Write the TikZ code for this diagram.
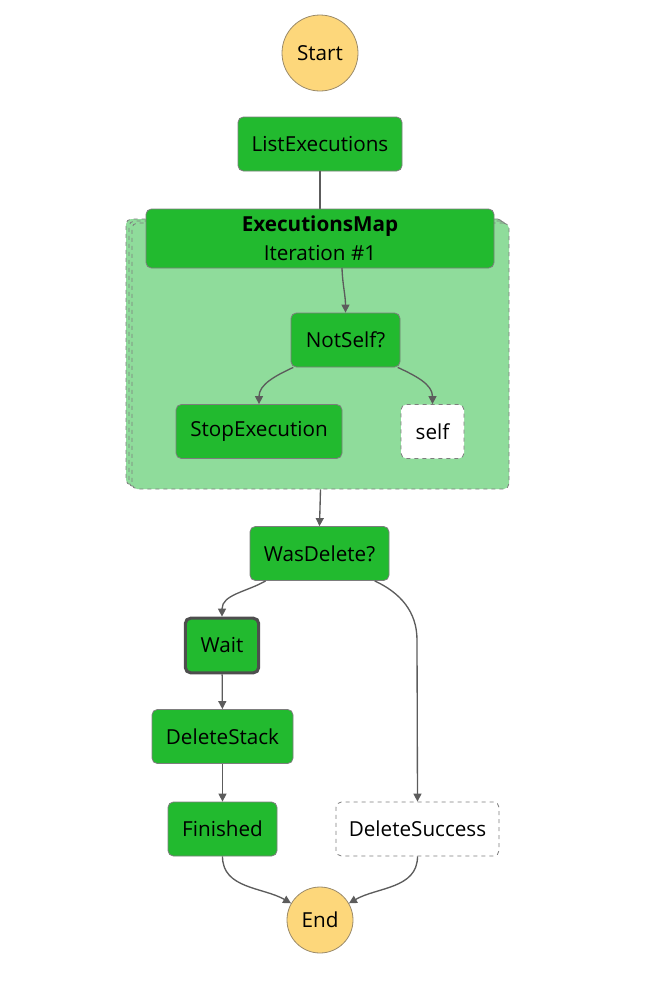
\documentclass[tikz,border=0pt]{standalone}
\usepackage{fontspec}
\setmainfont{Open Sans}
\usetikzlibrary{arrows.meta}
\definecolor{stategreen}{HTML}{22BA2F}
\definecolor{mapgreen}{HTML}{8FDC9B}
\definecolor{termyellow}{HTML}{FDD77B}
\definecolor{edgegray}{HTML}{5C5C5C}
\definecolor{termedge}{HTML}{9A8A6A}

\begin{document}
\begin{tikzpicture}[x=0.75pt,y=-0.75pt,line width=0.6,
	txt/.style={font=\fontsize{15.5}{21.75}\selectfont,text=black},
	state/.style={txt,draw=edgegray!80,fill=stategreen,rounded corners=4,inner sep=0,minimum height=40.5pt},
	ghost/.style={txt,draw=edgegray!80,dashed,fill=white,rounded corners=4,inner sep=0,minimum height=40.5pt},
	term/.style={txt,circle,draw=termedge,fill=termyellow,inner sep=0},
	maplayer/.style={draw=edgegray!80,dashed,fill=mapgreen,rounded corners=4,minimum width=282.75pt,minimum height=199.5pt,inner sep=0},
	arr/.style={draw=edgegray,line width=1,-{Triangle[length=6pt,width=6pt]}},
	line/.style={draw=edgegray,line width=1}]
	\useasboundingbox (0,0) rectangle (654,986);
			\node[term,minimum size=57pt] (start) at (320,53) {Start};
			\node[state,minimum width=123pt] (list) at (320,144) {ListExecutions};
			\node[maplayer] (mapback) at (314.5,352) {};
			\node[maplayer] (mapmid) at (317.5,354) {};
			\node[maplayer] (map) at (320.5,356) {};
			\draw[line] (list) -- (320,209);
			\node[state,minimum width=261pt,minimum height=44.25pt,align=center] (header) at (320,238.5) {\textbf{ExecutionsMap}\\Iteration \#1};
			\node[state,minimum width=81.75pt] (notself) at (345.5,340) {NotSelf?};
			\node[state,minimum width=124.5pt] (stopexec) at (259,431.5) {StopExecution};
			\node[ghost,minimum width=47.25pt] (self) at (432.5,431.5) {self};
			\draw[arr] (342,268) to[out=-88,in=90] (notself.north);
			\draw[arr] ([xshift=2]notself.south west) to[out=-155,in=90] (stopexec.north);
			\draw[arr] ([xshift=-2]notself.south east) to[out=-25,in=90] (self.north);
			\node[state,minimum width=104.25pt] (wasdelete) at (319.5,553.5) {WasDelete?};
			\draw[arr] (map.south) -- (wasdelete.north);
			\node[state,minimum width=55pt,minimum height=41pt,draw=edgegray!85!black,line width=2.3pt] (wait) at (222,645.5) {Wait};
			\node[state,minimum width=105.75pt] (deletestack) at (222.5,736.5) {DeleteStack};
			\node[state,minimum width=81.75pt] (finished) at (222.5,829) {Finished};
			\node[ghost,minimum width=122.25pt] (deletesuccess) at (417.5,829) {DeleteSuccess};
			\node[term,minimum size=49.5pt] (end) at (320,920) {End};
			\coordinate (bend) at (417,640);
			\draw[arr] ([xshift=12]wasdelete.south west) to[out=-150,in=90] (wait.north);
			\draw[arr] ([xshift=-11]wasdelete.south east) to[out=-25,in=90] (bend) -- (deletesuccess.north);
			\draw[arr] (wait) -- (deletestack);
			\draw[arr] (deletestack) -- (finished);
			\draw[arr] (finished.south) to[out=-90,in=150] (end);
			\draw[arr] (deletesuccess.south) to[out=-90,in=30] (end);
		\end{tikzpicture}
\end{document}
